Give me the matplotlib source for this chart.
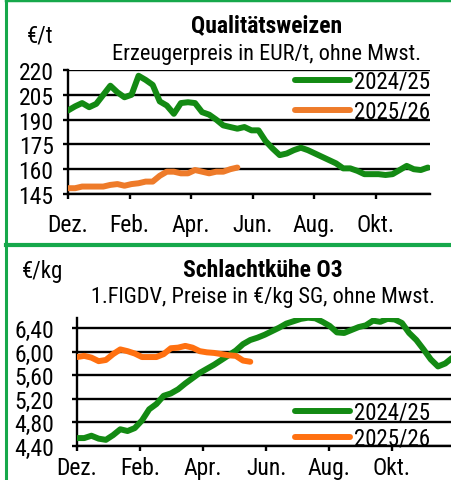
import matplotlib
matplotlib.use('Agg')
import matplotlib.pyplot as plt
from matplotlib import font_manager
from matplotlib.lines import Line2D

# a condensed face is closest to the original, fall back to DejaVu
names = {f.name for f in font_manager.fontManager.ttflist}
families = [c for c in ['Liberation Sans Narrow', 'Roboto Condensed',
                        'Open Sans Condensed'] if c in names]
families.append('DejaVu Sans')
plt.rcParams['font.family'] = families
if families[0] == 'DejaVu Sans':
    plt.rcParams['font.stretch'] = 'condensed'

# month tick labels (two-month steps, positions in weeks)
month_labels = ['Dez.', 'Feb.', 'Apr.', 'Jun.', 'Aug.', 'Okt.']
month_weeks = [0, 8.73, 17.46, 26.2, 34.9, 43.6]
series_names = ['2024/25', '2025/26']

# Qualitätsweizen, EUR/t, weekly
weizen_2425 = [195.5, 198, 200, 197.5, 199.5, 205, 210.5, 206.5, 203.5, 205,
               216.5, 214, 211, 201, 198.5, 193.5, 200, 200.5, 200, 194.5,
               193, 190, 186.5, 185.5, 184.5, 185.5, 183.5, 183.5, 177, 172.5,
               168.5, 169.5, 171.5, 173, 171.5, 169.5, 167.5, 165.5, 163.5, 160.5,
               160.5, 159, 157, 157, 157, 156.5, 157, 159.5, 162, 160,
               159.5, 161]
weizen_2526 = [148.5, 148.5, 149.5, 149.5, 149.5, 149.5, 150.5, 151, 150, 151,
               151.5, 152.5, 152.5, 156, 158.5, 158.5, 157.5, 157.5, 159.5, 158.5,
               157.5, 158.5, 158.5, 160, 161]
weizen_ticks = [145, 160, 175, 190, 205, 220]

# Schlachtkühe O3, EUR/kg SG, weekly
kuehe_2425 = [4.53, 4.53, 4.57, 4.52, 4.50, 4.58, 4.68, 4.65, 4.70, 4.83,
              5.02, 5.11, 5.25, 5.29, 5.36, 5.46, 5.55, 5.64, 5.71, 5.78,
              5.86, 5.94, 6.02, 6.13, 6.20, 6.24, 6.29, 6.35, 6.41, 6.48,
              6.52, 6.56, 6.58, 6.57, 6.51, 6.44, 6.33, 6.32, 6.37, 6.42,
              6.45, 6.53, 6.51, 6.56, 6.55, 6.49, 6.32, 6.20, 6.04, 5.87,
              5.75, 5.80, 5.90]
kuehe_2526 = [5.91, 5.93, 5.90, 5.84, 5.86, 5.96, 6.04, 6.01, 5.97, 5.91,
              5.91, 5.91, 5.96, 6.06, 6.07, 6.10, 6.07, 6.01, 5.99, 5.98,
              5.96, 5.94, 5.93, 5.85, 5.83]
kuehe_ticks = [4.40, 4.80, 5.20, 5.60, 6.00, 6.40]

GREEN = '#138a13'
FRAME = '#16a84b'
TICK_FS = 17


def panel(ax, s1, s2, orange, ticks, fmt, ylim, xmax, ypad, xpad):
    for y in ticks:
        ax.axhline(y, color='black', lw=1.7, zorder=1)
    ax.plot(range(len(s1)), s1, color=GREEN, lw=4.3, solid_capstyle='round',
            label=series_names[0], zorder=3)
    ax.plot(range(len(s2)), s2, color=orange, lw=4.3, solid_capstyle='round',
            label=series_names[1], zorder=3)
    ax.set_ylim(*ylim)
    ax.set_xlim(0, xmax)
    ax.set_yticks(ticks)
    ax.set_yticklabels([fmt(t) for t in ticks], fontsize=TICK_FS)
    ax.set_xticks(month_weeks)
    ax.set_xticklabels(month_labels, fontsize=TICK_FS)
    for s in ['top', 'right']:
        ax.spines[s].set_visible(False)
    for s in ['left', 'bottom']:
        ax.spines[s].set_linewidth(1.7)
    ax.tick_params(axis='y', length=3.4, width=1.7, pad=ypad)
    ax.tick_params(axis='x', length=3.6, width=1.7, pad=xpad)


fig = plt.figure(figsize=(4.51, 4.81), dpi=100)

ax1 = fig.add_axes([0.1508, 0.5946, 0.8026, 0.2578])
panel(ax1, weizen_2425, weizen_2526, '#ee7b2a', weizen_ticks,
      lambda t: '%d' % t, (145, 220), 51.3, ypad=7, xpad=10)
ax1.legend(loc='upper right', bbox_to_anchor=(1.0, 1.0), frameon=False,
           fontsize=16.5, handlelength=2.4, handletextpad=0.18,
           labelspacing=0.3, borderaxespad=0, borderpad=0)

ax2 = fig.add_axes([0.1707, 0.0713, 0.8293, 0.2655])
panel(ax2, kuehe_2425, kuehe_2526, '#ff7010', kuehe_ticks,
      lambda t: ('%.2f' % t).replace('.', ','), (4.40, 6.575), 51.8,
      ypad=13, xpad=4)
ax2.legend(loc='lower right', bbox_to_anchor=(0.944, -0.03), frameon=False,
           fontsize=16.5, handlelength=2.4, handletextpad=0.18,
           labelspacing=0.13, borderaxespad=0, borderpad=0)

# texts (baseline positions in pixels from the top)
fig.text(40 / 451, 1 - 42 / 481, '€/t', fontsize=16.5, ha='center',
         va='baseline')
fig.text(267 / 451, 1 - 32 / 481, 'Qualitätsweizen', fontsize=17,
         fontweight='bold', ha='center', va='baseline')
fig.text(266 / 451, 1 - 60 / 481, 'Erzeugerpreis in EUR/t, ohne Mwst.',
         fontsize=16, ha='center', va='baseline')
fig.text(43 / 451, 1 - 278 / 481, '€/kg', fontsize=16.5, ha='center',
         va='baseline')
fig.text(263 / 451, 1 - 277 / 481, 'Schlachtkühe O3', fontsize=17,
         fontweight='bold', ha='center', va='baseline')
fig.text(263 / 451, 1 - 303 / 481, '1.FlGDV, Preise in €/kg SG, ohne Mwst.',
         fontsize=16, ha='center', va='baseline')

# green frame
fig.add_artist(Line2D([6 / 451, 6 / 451], [0, 1], transform=fig.transFigure,
                      color=FRAME, lw=2.2))
fig.add_artist(Line2D([6 / 451, 1], [1 - 1 / 481, 1 - 1 / 481],
                      transform=fig.transFigure, color=FRAME, lw=2.5))
fig.add_artist(Line2D([6 / 451, 1], [1 - 246 / 481, 1 - 246 / 481],
                      transform=fig.transFigure, color=FRAME, lw=3))

fig.savefig('out.png', dpi=100)
